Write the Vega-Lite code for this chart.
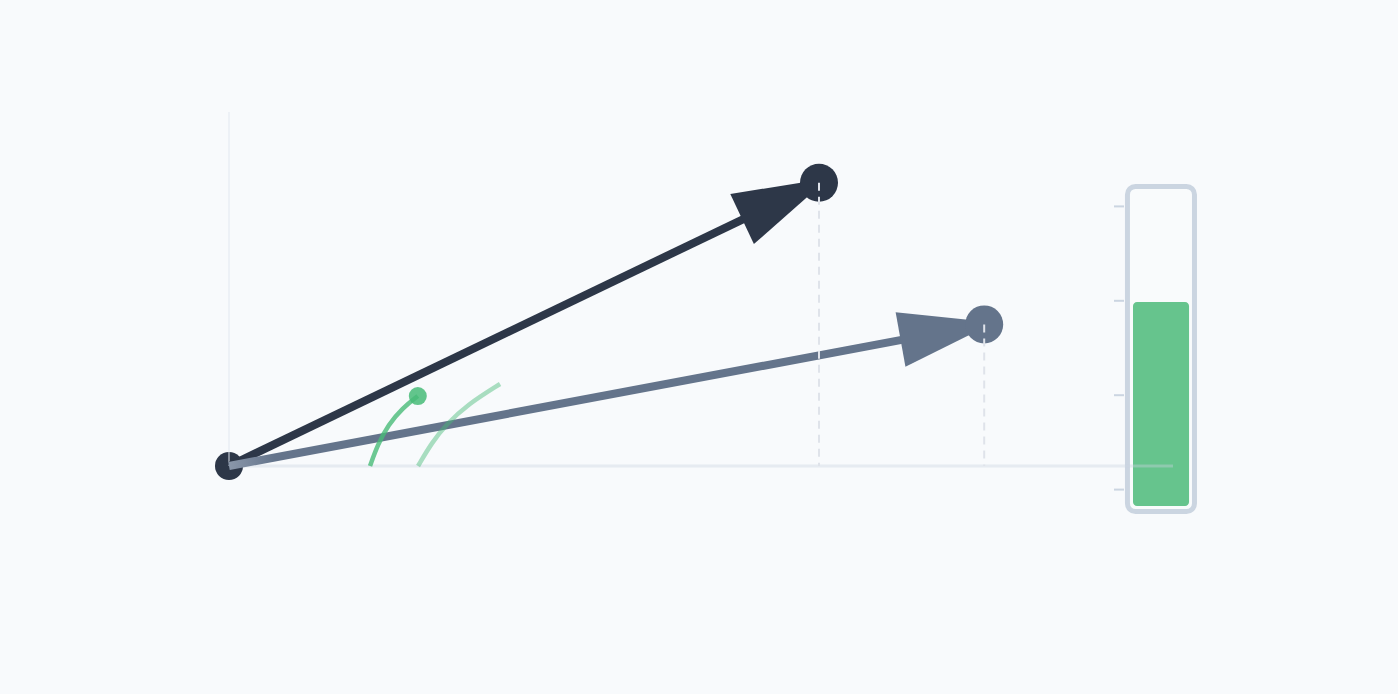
{
  "$schema": "https://vega.github.io/schema/vega-lite/v6.json",
  "width": 1398,
  "height": 694,
  "autosize": {"type": "fit", "contains": "padding"},
  "padding": 0,
  "background": "#f8fafc",
  "config": {"view": {"stroke": null}, "axis": {"disable": true}},
  "datasets": {
    "vectors": [
      {"name": "a", "x": 5, "y": 2.4},
      {"name": "b", "x": 6.4, "y": 1.2}
    ],
    "axes": [
      {"dir": "x", "x": 0, "y": 0, "x2": 8, "y2": 0},
      {"dir": "y", "x": 0, "y": 0, "x2": 0, "y2": 3}
    ],
    "arcs": [
      {"arc": 1, "i": 0, "x": 1.195, "y": 0.0},
      {"arc": 1, "i": 1, "x": 1.26, "y": 0.18},
      {"arc": 1, "i": 2, "x": 1.35, "y": 0.35},
      {"arc": 1, "i": 3, "x": 1.47, "y": 0.49},
      {"arc": 1, "i": 4, "x": 1.6, "y": 0.593},
      {"arc": 2, "i": 0, "x": 1.602, "y": 0.0},
      {"arc": 2, "i": 1, "x": 1.72, "y": 0.2},
      {"arc": 2, "i": 2, "x": 1.84, "y": 0.35},
      {"arc": 2, "i": 3, "x": 2.02, "y": 0.52},
      {"arc": 2, "i": 4, "x": 2.297, "y": 0.695}
    ],
    "marker": [{"x": 1.6, "y": 0.593}],
    "frame": [{"x": 7.614, "x2": 8.182, "y": -0.386, "y2": 2.369}],
    "level": [{"x": 7.661, "x2": 8.136, "y": -0.339, "y2": 1.39}],
    "ticks": [
      {"x": 7.5, "x2": 7.585, "y": -0.2},
      {"x": 7.5, "x2": 7.585, "y": 0.6},
      {"x": 7.5, "x2": 7.585, "y": 1.4},
      {"x": 7.5, "x2": 7.585, "y": 2.2}
    ]
  },
  "encoding": {
    "x": {
      "field": "x",
      "type": "quantitative",
      "scale": {"domain": [-1.9407, 9.9068], "nice": false, "zero": false},
      "axis": null
    },
    "y": {
      "field": "y",
      "type": "quantitative",
      "scale": {"domain": [-1.9322, 3.9492], "nice": false, "zero": false},
      "axis": null
    }
  },
  "layer": [
    {
      "data": {"name": "frame"},
      "mark": {"type": "rect", "fill": "#f9fbfc", "stroke": "#cbd5e1", "strokeWidth": 5, "cornerRadius": 8},
      "encoding": {"x2": {"field": "x2"}, "y2": {"field": "y2"}}
    },
    {
      "data": {"name": "level"},
      "mark": {"type": "rect", "fill": "#66c48d", "cornerRadius": 4},
      "encoding": {"x2": {"field": "x2"}, "y2": {"field": "y2"}}
    },
    {
      "data": {"name": "ticks"},
      "mark": {"type": "rule", "stroke": "#cbd5e1", "strokeWidth": 2},
      "encoding": {"x2": {"field": "x2"}}
    },
    {
      "data": {"name": "axes"},
      "transform": [{"filter": "datum.dir == 'x'"}],
      "mark": {"type": "rule", "stroke": "#cbd5e1", "strokeWidth": 3, "opacity": 0.4},
      "encoding": {"x2": {"field": "x2"}, "y2": {"field": "y2"}}
    },
    {
      "data": {"values": [{"x": 0, "y": 0}]},
      "mark": {"type": "circle", "color": "#2d3748", "size": 784, "opacity": 1}
    },
    {
      "data": {"name": "axes"},
      "transform": [{"filter": "datum.dir == 'y'"}],
      "mark": {"type": "rule", "stroke": "#e2e8f0", "strokeWidth": 2, "opacity": 0.5},
      "encoding": {"x2": {"field": "x2"}, "y2": {"field": "y2"}}
    },
    {
      "data": {"name": "vectors"},
      "transform": [{"filter": "datum.name == 'a'"}],
      "mark": {"type": "rule", "strokeWidth": 8, "stroke": "#2d3748"},
      "encoding": {"x2": {"datum": 0}, "y2": {"datum": 0}}
    },
    {
      "data": {"name": "vectors"},
      "transform": [{"filter": "datum.name == 'b'"}],
      "mark": {
        "type": "rule",
        "strokeWidth": 8,
        "stroke": {
          "gradient": "linear",
          "x1": 0, "y1": 0, "x2": 1, "y2": 0,
          "stops": [
            {"offset": 0, "color": "#8a97aa"},
            {"offset": 0.06, "color": "#64748b"},
            {"offset": 1, "color": "#64748b"}
          ]
        }
      },
      "encoding": {"x2": {"datum": 0}, "y2": {"datum": 0}}
    },
    {
      "data": {"name": "arcs"},
      "transform": [{"filter": "datum.arc == 1"}],
      "mark": {"type": "line", "stroke": "#48bb78", "strokeWidth": 4.5, "opacity": 0.8, "interpolate": "basis"},
      "encoding": {"order": {"field": "i"}}
    },
    {
      "data": {"name": "arcs"},
      "transform": [{"filter": "datum.arc == 2"}],
      "mark": {"type": "line", "stroke": "#48bb78", "strokeWidth": 4.5, "opacity": 0.45, "interpolate": "basis"},
      "encoding": {"order": {"field": "i"}}
    },
    {
      "data": {"name": "marker"},
      "mark": {"type": "circle", "color": "#48bb78", "size": 324, "opacity": 0.85}
    },
    {
      "data": {"name": "vectors"},
      "transform": [{"filter": "datum.name == 'a'"}],
      "mark": {
        "type": "point",
        "shape": "M 0.22 0 L -1.78 -0.58 L -1.78 0.58 Z",
        "size": 9120,
        "angle": -25.2,
        "filled": true,
        "opacity": 1,
        "strokeWidth": 0
      },
      "encoding": {"color": {"field": "name", "type": "nominal", "scale": {"domain": ["a", "b"], "range": ["#2d3748", "#64748b"]}, "legend": null}}
    },
    {
      "data": {"name": "vectors"},
      "transform": [{"filter": "datum.name == 'b'"}],
      "mark": {
        "type": "point",
        "shape": "M 0.22 0 L -1.78 -0.58 L -1.78 0.58 Z",
        "size": 9120,
        "angle": -10.2,
        "filled": true,
        "opacity": 1,
        "strokeWidth": 0
      },
      "encoding": {"color": {"field": "name", "type": "nominal", "legend": null}}
    },
    {
      "data": {"name": "vectors"},
      "mark": {"type": "circle", "size": 1444, "opacity": 1},
      "encoding": {"color": {"field": "name", "type": "nominal", "legend": null}}
    },
    {
      "data": {"name": "vectors"},
      "mark": {"type": "rule", "stroke": "#dfe3ea", "strokeWidth": 2, "strokeDash": [8, 6]},
      "encoding": {"y2": {"datum": 0}}
    }
  ]
}
